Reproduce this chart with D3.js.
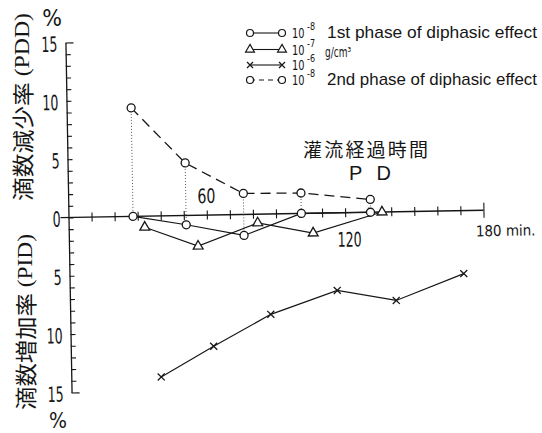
<!DOCTYPE html>
<html><head><meta charset="utf-8">
<script src="https://cdn.jsdelivr.net/npm/d3@7"></script>
<style>body{margin:0;background:#fff}svg{display:block}</style>
</head><body><svg id="c" width="542" height="433"></svg>
<script>
// ---- data (minutes, % ; positive = PDD decrease, negative = PID increase) ----
const timesA = [28, 51, 76, 101, 131];
const firstPhase8 = [0, -0.8, -1.8, 0, 0];
const secondPhase8 = [9.3, 4.5, 1.8, 1.75, 1.1];
const times7 = [33, 56, 82, 106, 136];
const conc7 = [-0.95, -2.65, -0.75, -1.7, 0];
const times6 = [39, 62, 87, 116, 141.5, 171];
const conc6 = [-13.8, -11.25, -8.6, -6.65, -7.6, -5.4];

const yTickLabelsUp = [0, 5, 10, 15];
const yTickLabelsDown = [5, 10, 15];
const xTickLabels = ["60", "120", "180 min."];
const xTickLabelValues = [60, 120, 180];

const legendBase = ["10", "10", "10", "10"];
const legendExp = ["-8", "-7", "-6", "-8"];
const legendText = ["1st phase of diphasic effect", "", "", "2nd phase of diphasic effect"];
const unitText = "g/cm³";
const yTitleUp = ["滴数減少率", " (PDD)"];
const yTitleDown = ["滴数増加率", " (PID)"];
const noteLine1 = "灌流経過時間";
const noteLine2 = "P  D";

// ---- drawing ----
const ink = "#161616";
const svg = d3.select("#c");
const W = 415, H = 175;
const x = d3.scaleLinear().domain([0, 180]).range([0, W]);
const y = d3.scaleLinear().domain([-15, 15]).range([H, -H]);
const numFont = "'DejaVu Sans Condensed','Liberation Sans',sans-serif";

const g = svg.append("g").attr("transform", "translate(68.5,217.5) rotate(-1)");

// y axis
const yAxis = d3.axisRight(y).tickValues(d3.range(-15, 16, 1)).tickSizeInner(5).tickSizeOuter(0).tickFormat("");
const ya = g.append("g").call(yAxis);
ya.select(".domain").attr("stroke", ink).attr("stroke-width", 1.3);
ya.selectAll(".tick line").attr("stroke", ink).attr("stroke-width", 1.1)
  .attr("x2", d => Math.abs(d) === 15 ? 8 : 5);

// x axis
g.append("line").attr("x1", -8).attr("x2", x(180)).attr("y1", 0).attr("y2", 0)
  .attr("stroke", ink).attr("stroke-width", 1.3);
const xAxis = d3.axisBottom(x).tickValues(d3.range(10, 181, 10)).tickSizeInner(9).tickSizeOuter(0).tickFormat("");
const xa = g.append("g").attr("transform", "translate(0,-4.5)").call(xAxis);
xa.select(".domain").remove();
xa.selectAll(".tick line").attr("stroke", ink).attr("stroke-width", 1.1)
  .attr("y1", d => d === 180 ? -3 : 0).attr("y2", d => d === 180 ? 12 : 9);

// y tick labels
function tickLabel(sel, data, sign) {
  sel.selectAll(null).data(data).join("text")
    .attr("x", -8).attr("y", d => y(sign * d) + 9).attr("text-anchor", "end")
    .attr("font-family", numFont).attr("font-size", 21).attr("fill", ink)
    .attr("textLength", d => String(d).length * 8).attr("lengthAdjust", "spacingAndGlyphs")
    .text(d => d);
}
tickLabel(g, yTickLabelsUp, 1);
tickLabel(g, yTickLabelsDown, -1);

// x tick labels
const xlOff = [{dx: 0, y: -12, a: "middle", len: 18, fs: 20}, {dx: 4, y: 34, a: "middle", len: 24, fs: 20}, {dx: -8, y: 26, a: "start", len: null, fs: 15}];
g.selectAll(".xl").data(xTickLabelValues).join("text")
  .attr("x", (d, i) => x(d) + xlOff[i].dx).attr("y", (d, i) => xlOff[i].y)
  .attr("text-anchor", (d, i) => xlOff[i].a)
  .attr("font-family", numFont).attr("font-size", (d, i) => xlOff[i].fs).attr("fill", ink)
  .attr("textLength", (d, i) => xlOff[i].len).attr("lengthAdjust", "spacingAndGlyphs")
  .text((d, i) => xTickLabels[i]);

// dotted droplines between 2nd and 1st phase
g.selectAll(".drop").data(timesA).join("line")
  .attr("x1", d => x(d)).attr("x2", d => x(d))
  .attr("y1", (d, i) => y(secondPhase8[i])).attr("y2", (d, i) => y(firstPhase8[i]))
  .attr("stroke", "#444").attr("stroke-width", 0.9).attr("stroke-dasharray", "1,2");

const line = d3.line().x(d => x(d[0])).y(d => y(d[1]));
const zip = (t, v) => t.map((d, i) => [d, v[i]]);
const sFirst = zip(timesA, firstPhase8), sSecond = zip(timesA, secondPhase8);
const s7 = zip(times7, conc7), s6 = zip(times6, conc6);

g.append("path").datum(sSecond).attr("d", line).attr("fill", "none").attr("stroke", ink)
  .attr("stroke-width", 1.3).attr("stroke-dasharray", "10,6");
[sFirst, s7, s6].forEach(s => g.append("path").datum(s).attr("d", line)
  .attr("fill", "none").attr("stroke", ink).attr("stroke-width", 1.2));

function circles(sel, data) {
  sel.selectAll(null).data(data).join("circle").attr("cx", d => x(d[0])).attr("cy", d => y(d[1]))
    .attr("r", 4).attr("fill", "#fff").attr("stroke", ink).attr("stroke-width", 1.3);
}
circles(g, sFirst); circles(g, sSecond);
const tri = d3.symbol().type(d3.symbolTriangle).size(42);
g.selectAll(".tri").data(s7).join("path").attr("d", tri)
  .attr("transform", d => `translate(${x(d[0])},${y(d[1])})`)
  .attr("fill", "#fff").attr("stroke", ink).attr("stroke-width", 1.3);
const cross = "M-3.5,-3.5L3.5,3.5M-3.5,3.5L3.5,-3.5";
g.selectAll(".crs").data(s6).join("path").attr("d", cross)
  .attr("transform", d => `translate(${x(d[0])},${y(d[1])})`)
  .attr("fill", "none").attr("stroke", ink).attr("stroke-width", 1.3);

// percent signs
svg.append("text").attr("x", 52).attr("y", 26).attr("text-anchor", "middle")
  .attr("font-family", numFont).attr("font-size", 23).attr("fill", ink).text("%");
svg.append("text").attr("x", 58).attr("y", 428).attr("text-anchor", "middle")
  .attr("font-family", numFont).attr("font-size", 21).attr("fill", ink).text("%");

// y titles
function yTitle(cx, cy, parts, len) {
  const t = svg.append("text").attr("transform", `translate(${cx},${cy}) rotate(-90)`)
    .attr("text-anchor", "middle").attr("dominant-baseline", "central").attr("fill", ink)
    .attr("font-size", 22).attr("textLength", len).attr("lengthAdjust", "spacingAndGlyphs");
  t.append("tspan").attr("font-family", "'Noto Sans CJK JP',sans-serif").text(parts[0]);
  t.append("tspan").attr("font-family", "'Liberation Serif',serif").text(parts[1]);
}
yTitle(21, 107, yTitleUp, 188);
yTitle(24, 322, yTitleDown, 176);

// legend
const lg = svg.append("g");
const rowsY = [33, 49.5, 65, 80];
const symKind = ["circle", "tri", "cross", "circle"];
rowsY.forEach((ry, i) => {
  lg.append("line").attr("x1", 250).attr("x2", 282).attr("y1", ry).attr("y2", ry)
    .attr("stroke", ink).attr("stroke-width", 1.1).attr("stroke-dasharray", i === 3 ? "5,4" : null);
  [250, 282].forEach(mx => {
    if (symKind[i] === "circle") lg.append("circle").attr("cx", mx).attr("cy", ry).attr("r", 3.5)
      .attr("fill", "#fff").attr("stroke", ink).attr("stroke-width", 1.2);
    else if (symKind[i] === "tri") lg.append("path").attr("d", d3.symbol().type(d3.symbolTriangle).size(34))
      .attr("transform", `translate(${mx},${ry})`).attr("fill", "#fff").attr("stroke", ink).attr("stroke-width", 1.2);
    else lg.append("path").attr("d", "M-3,-3L3,3M-3,3L3,-3").attr("transform", `translate(${mx},${ry})`)
      .attr("stroke", ink).attr("stroke-width", 1.2);
  });
  lg.append("text").attr("x", 292).attr("y", ry + 5).attr("font-family", numFont).attr("font-size", 14)
    .attr("textLength", 12.5).attr("lengthAdjust", "spacingAndGlyphs").attr("fill", ink).text(legendBase[i]);
  lg.append("text").attr("x", 307).attr("y", ry - 3).attr("font-family", numFont).attr("font-size", 10)
    .attr("textLength", 8).attr("lengthAdjust", "spacingAndGlyphs").attr("fill", ink).text(legendExp[i]);
  if (legendText[i]) lg.append("text").attr("x", 327).attr("y", ry + 5).attr("font-family", "'Liberation Sans',sans-serif")
    .attr("font-size", 17).attr("textLength", 210).attr("lengthAdjust", "spacingAndGlyphs")
    .attr("fill", ink).text(legendText[i]);
});
lg.append("text").attr("x", 325).attr("y", 57).attr("font-family", numFont).attr("font-size", 14)
  .attr("textLength", 26).attr("lengthAdjust", "spacingAndGlyphs").attr("fill", ink).text(unitText);

// annotation
svg.append("text").attr("x", 303).attr("y", 157).attr("font-family", "'Noto Sans CJK JP',sans-serif")
  .attr("font-size", 19).attr("textLength", 125).attr("lengthAdjust", "spacing").attr("fill", ink).text(noteLine1);
svg.append("text").attr("x", 349).attr("y", 180).attr("font-family", "'Liberation Sans',sans-serif")
  .attr("font-size", 20).attr("textLength", 42).attr("lengthAdjust", "spacing").attr("fill", ink).text(noteLine2);
</script></body></html>
